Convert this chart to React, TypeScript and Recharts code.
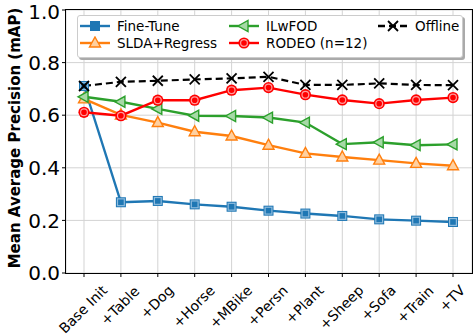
import React from 'react';
import { LineChart, Line, XAxis, YAxis, CartesianGrid, Label } from 'recharts';

const steps = ['Base Init', '+Table', '+Dog', '+Horse', '+MBike', '+Persn', '+Plant', '+Sheep', '+Sofa', '+Train', '+TV'];
const fineTune = [0.711, 0.269, 0.274, 0.261, 0.252, 0.237, 0.226, 0.217, 0.204, 0.199, 0.194];
const sldaRegress = [0.662, 0.601, 0.572, 0.537, 0.521, 0.486, 0.455, 0.441, 0.429, 0.417, 0.408];
const ilwfod = [0.67, 0.651, 0.624, 0.598, 0.597, 0.591, 0.572, 0.49, 0.497, 0.486, 0.489];
const rodeo = [0.611, 0.598, 0.657, 0.657, 0.695, 0.705, 0.678, 0.658, 0.644, 0.658, 0.667];
const offline = [0.711, 0.727, 0.731, 0.736, 0.74, 0.746, 0.715, 0.715, 0.721, 0.715, 0.714];
const yTicks = [0, 0.2, 0.4, 0.6, 0.8, 1.0];

const data = steps.map((step, i) => ({
  step,
  fineTune: fineTune[i],
  slda: sldaRegress[i],
  ilwfod: ilwfod[i],
  rodeo: rodeo[i],
  offline: offline[i],
}));

const FONT = '"DejaVu Sans", sans-serif';

const BLUE = '#1f77b4';
const ORANGE = '#ff7f0e';
const GREEN = '#2ca02c';
const RED = '#ff0000';

// rough DejaVu Sans advance widths (em) for the rotated labels
const charW: Record<string, number> = {
  '+': 0.838, B: 0.686, a: 0.613, s: 0.521, e: 0.615, ' ': 0.318, I: 0.295, n: 0.634, i: 0.278,
  t: 0.392, T: 0.611, b: 0.635, l: 0.278, D: 0.77, o: 0.612, g: 0.635, H: 0.752, r: 0.411,
  M: 0.863, k: 0.579, P: 0.603, h: 0.634, S: 0.635, p: 0.635, f: 0.352, V: 0.684,
};

function XTick(props: any) {
  const { x, y, payload } = props;
  const fs = 14;
  const w = String(payload.value).split('').reduce((s, c) => s + (charW[c] ?? 0.62), 0) * fs;
  const cy = y + 5 + (w + 0.75 * fs) * 0.354;
  return (
    <text
      x={x - 1}
      y={cy}
      transform={`rotate(-45 ${x - 1} ${cy})`}
      textAnchor="middle"
      dominantBaseline="central"
      fontSize={fs}
      fontFamily={FONT}
      fill="#000"
    >
      {payload.value}
    </text>
  );
}

function Marker({ shape, color, light, cx, cy }: any) {
  if (shape === 'square') {
    return (
      <g>
        <rect x={cx - 5} y={cy - 5} width={10} height={10} fill={color} />
        <rect x={cx - 3.4} y={cy - 3.4} width={6.8} height={6.8} fill={color} stroke={light} strokeWidth={1.2} />
      </g>
    );
  }
  if (shape === 'up') {
    const p = `${cx},${cy - 6} ${cx + 5.5},${cy + 4} ${cx - 5.5},${cy + 4}`;
    return <polygon points={p} fill={light} stroke={color} strokeWidth={1.4} />;
  }
  if (shape === 'left') {
    const p = `${cx - 6},${cy} ${cx + 4},${cy - 5.5} ${cx + 4},${cy + 5.5}`;
    return <polygon points={p} fill={light} stroke={color} strokeWidth={1.4} />;
  }
  if (shape === 'circle') {
    return (
      <g>
        <circle cx={cx} cy={cy} r={5.6} fill={color} />
        <circle cx={cx} cy={cy} r={3.4} fill={color} stroke={light} strokeWidth={1.2} />
      </g>
    );
  }
  return (
    <g stroke="#000" strokeWidth={1.8}>
      <line x1={cx - 5} y1={cy - 5} x2={cx + 5} y2={cy + 5} />
      <line x1={cx - 5} y1={cy + 5} x2={cx + 5} y2={cy - 5} />
    </g>
  );
}

const dot = (shape: string, color: string, light: string) => (p: any) => (
  <Marker key={`${shape}-${p.index}`} shape={shape} color={color} light={light} cx={p.cx} cy={p.cy} />
);

const legendItems = [
  { name: 'Fine-Tune', shape: 'square', color: BLUE, light: BLUE, dash: '', left: 80, top: 26 },
  { name: 'SLDA+Regress', shape: 'up', color: ORANGE, light: '#ffd0a0', dash: '', left: 80, top: 43 },
  { name: 'ILwFOD', shape: 'left', color: GREEN, light: '#a6d9a6', dash: '', left: 229, top: 26 },
  { name: 'RODEO (n=12)', shape: 'circle', color: RED, light: '#ff9a9a', dash: '', left: 229, top: 43 },
  { name: 'Offline', shape: 'x', color: '#000', light: '#000', dash: '7 4', left: 378, top: 26 },
];

export default function App() {
  return (
    <div style={{ position: 'absolute', left: 0, top: 0, width: 474, height: 336, background: '#fff' }}>
      <LineChart width={474} height={336} data={data} margin={{ top: 10, right: 2, left: 0, bottom: 0 }}>
        <CartesianGrid stroke="#d3d3d3" strokeWidth={1} />
        <XAxis
          dataKey="step"
          interval={0}
          height={63}
          padding={{ left: 18, right: 19 }}
          axisLine={false}
          tickLine={{ stroke: '#000', strokeWidth: 1 }}
          tickSize={4}
          tick={<XTick />}
        />
        <YAxis
          width={66}
          domain={[0, 1]}
          ticks={yTicks}
          tickFormatter={(v: number) => v.toFixed(1)}
          axisLine={false}
          tickLine={{ stroke: '#000', strokeWidth: 1 }}
          tickSize={4}
          tick={{ fontSize: 20, fill: '#000', fontFamily: FONT }}
        >
          <Label
            content={() => (
              <text
                x={20}
                y={138}
                transform="rotate(-90 20 138)"
                textAnchor="middle"
                fontSize={15}
                fontWeight="bold"
                fontFamily={FONT}
                fill="#000"
              >
                Mean Average Precision (mAP)
              </text>
            )}
          />
        </YAxis>
        <Line dataKey="fineTune" stroke={BLUE} strokeWidth={2.4} dot={dot('square', BLUE, '#8dbbdd')} isAnimationActive={false} />
        <Line dataKey="slda" stroke={ORANGE} strokeWidth={2.4} dot={dot('up', ORANGE, '#ffd0a0')} isAnimationActive={false} />
        <Line dataKey="ilwfod" stroke={GREEN} strokeWidth={2.4} dot={dot('left', GREEN, '#a6d9a6')} isAnimationActive={false} />
        <Line dataKey="rodeo" stroke={RED} strokeWidth={2.4} dot={dot('circle', RED, '#ff9a9a')} isAnimationActive={false} />
        <Line dataKey="offline" stroke="#000" strokeWidth={2.2} strokeDasharray="7 4" dot={dot('x', '#000', '#000')} isAnimationActive={false} />
      </LineChart>

      {/* axes frame */}
      <div
        style={{
          position: 'absolute', left: 65, top: 9, width: 408, height: 265,
          border: '1.2px solid #000', boxSizing: 'border-box', pointerEvents: 'none',
        }}
      />

      {/* legend */}
      <div
        style={{
          position: 'absolute', left: 77, top: 15, width: 384, height: 41,
          background: '#fff', border: '1px solid #ccc', borderRadius: 3,
          boxShadow: '2px 2px 0 #aaa',
        }}
      />
      {legendItems.map((it) => (
        <React.Fragment key={it.name}>
          <svg style={{ position: 'absolute', left: it.left, top: it.top - 7 }} width={30} height={14}>
            <line x1={0} y1={7} x2={30} y2={7} stroke={it.color} strokeWidth={2.4} strokeDasharray={it.dash || undefined} />
            <Marker shape={it.shape} color={it.color} light={it.light} cx={15} cy={7} />
          </svg>
          <div
            style={{
              position: 'absolute', left: it.left + 37, top: it.top - 9, fontSize: 13.5,
              fontFamily: FONT, lineHeight: '18px', whiteSpace: 'nowrap', color: '#000',
            }}
          >
            {it.name}
          </div>
        </React.Fragment>
      ))}
    </div>
  );
}
